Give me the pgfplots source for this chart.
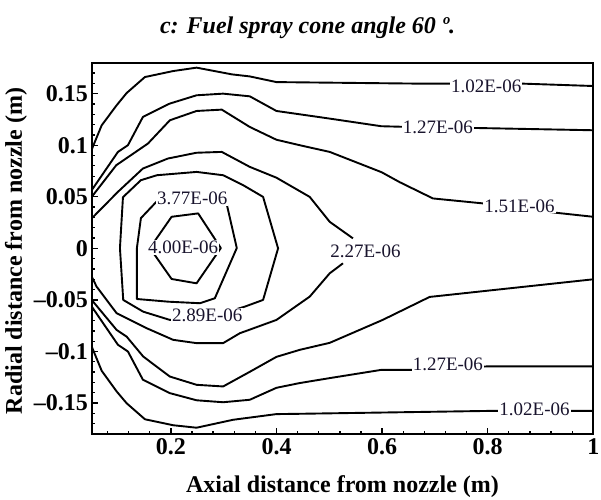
\documentclass[border=0pt]{standalone}
\usepackage{fontspec}
\setmainfont{Liberation Serif}
\usepackage{pgfplots}
\pgfplotsset{compat=1.18}

\definecolor{lbl}{RGB}{25,20,45}
\tikzset{
  cline/.style={black, line width=1.9pt, mark=none, line join=round},
  clab/.style={font=\fontsize{19}{22}\selectfont, text=lbl, fill=white, inner sep=1pt},
}

\begin{document}
\begin{tikzpicture}
\begin{axis}[
    at={(0,0)}, anchor=south west,
    width=501.6pt, height=371.3pt, scale only axis,
    xmin=0.05, xmax=1,
    ymin=-0.18, ymax=0.18,
    xtick={0.2,0.4,0.6,0.8,1},
    xticklabels={0.2,0.4,0.6,0.8,1},
    ytick={-0.15,-0.1,-0.05,0,0.05,0.1,0.15},
    yticklabels={--0.15,--0.1,--0.05,0,0.05,0.1,0.15},
    minor xtick={0.08,0.12,...,0.96},
    minor ytick={-0.17,-0.16,...,0.17},
    tick pos=left, tick align=inside,
    major tick length=6pt, minor tick length=3.5pt,
    every tick/.style={black, line width=1.3pt},
    axis line style={line width=2.3pt},
    ticklabel style={font=\bfseries\fontsize{24}{28}\selectfont},
    xticklabel style={inner sep=0pt, yshift=-4pt, anchor=north},
    yticklabel style={inner sep=0pt, xshift=-3.7pt, anchor=east},
]

% 1.02E-06
\addplot[cline] coordinates {
  (0.05,0.0958)(0.0689,0.1193)(0.0972,0.1387)(0.1162,0.1506)(0.1508,0.1661)
  (0.2043,0.1719)(0.2486,0.1752)(0.3154,0.1687)(0.3494,0.1667)(0.3999,0.1612)
  (0.6710,0.1597)(0.8664,0.1597)(1.0,0.1574)};
\addplot[cline] coordinates {
  (0.05,-0.0952)(0.0689,-0.1187)(0.0972,-0.1387)(0.1162,-0.1502)(0.1508,-0.1657)
  (0.2043,-0.1715)(0.2486,-0.1739)(0.3178,-0.1662)(0.3999,-0.1607)(0.4440,-0.1604)
  (0.8161,-0.1575)(1.0,-0.1575)};

% 1.27E-06
\addplot[cline] coordinates {
  (0.05,0.0564)(0.0997,0.0935)(0.1186,0.1000)(0.1470,0.1274)(0.1975,0.1403)
  (0.2486,0.1484)(0.2989,0.1500)(0.3494,0.1474)(0.3999,0.1332)(0.5008,0.1258)
  (0.5986,0.1184)(0.6364,0.1179)(0.7783,0.1167)(1.0,0.1145)};
\addplot[cline] coordinates {
  (0.05,-0.0564)(0.0997,-0.0935)(0.1186,-0.1000)(0.1470,-0.1274)(0.1975,-0.1403)
  (0.2486,-0.1473)(0.2989,-0.1492)(0.3494,-0.1468)(0.3999,-0.1352)(0.4440,-0.1306)
  (0.5008,-0.1258)(0.5986,-0.1178)(0.6553,-0.1178)(0.7972,-0.1145)(1.0,-0.1145)};

% 1.51E-06
\addplot[cline] coordinates {
  (0.05,0.0499)(0.0965,0.0806)(0.1565,0.1016)(0.1981,0.1242)(0.2486,0.1332)
  (0.2964,0.1345)(0.3494,0.1177)(0.3999,0.1053)(0.4440,0.1000)(0.5008,0.0935)
  (0.5991,0.0738)(0.6332,0.0642)(0.6962,0.0484)(0.7908,0.0436)(0.9296,0.0345)
  (1.0,0.0306)};
\addplot[cline] coordinates {
  (0.05,-0.0500)(0.0972,-0.0791)(0.1162,-0.0856)(0.1476,-0.1049)(0.1981,-0.1243)
  (0.2486,-0.1323)(0.2989,-0.1339)(0.3494,-0.1197)(0.3999,-0.1052)(0.4440,-0.0984)
  (0.5008,-0.0916)(0.6010,-0.0694)(0.6900,-0.0471)(1.0,-0.0300)};

% 2.27E-06
\addplot[cline] coordinates {
  (0.05,0.0290)(0.0997,0.0548)(0.1470,0.0774)(0.1943,0.0871)(0.2486,0.0927)
  (0.2964,0.0935)(0.3494,0.0790)(0.3999,0.0685)(0.4629,0.0499)(0.5008,0.0257)
  (0.5448,0.0097)};
\addplot[cline] coordinates {
  (0.5259,-0.0145)(0.5008,-0.0242)(0.4629,-0.0468)(0.3999,-0.0694)(0.3305,-0.0823)
  (0.2989,-0.0919)(0.2486,-0.0919)(0.2043,-0.0887)(0.1540,-0.0774)(0.0972,-0.0629)
  (0.0594,-0.0372)(0.05,-0.0275)};

% 2.89E-06
\addplot[cline] coordinates {
  (0.1035,0.0003)(0.1092,0.0496)(0.1432,0.0661)(0.1735,0.0709)(0.2486,0.0741)
  (0.2989,0.0709)(0.3367,0.0613)(0.3746,0.0499)(0.4030,0.0)(0.3746,-0.0500)
  (0.3400,-0.0565)(0.2681,-0.0675)(0.1981,-0.0694)(0.1476,-0.0614)(0.1097,-0.0500)
  (0.1035,0.0003)};

% 3.77E-06
\addplot[cline] coordinates {
  (0.1356,0.0003)(0.1432,0.0293)(0.1754,0.0467)(0.2397,0.0506)(0.3040,0.0467)
  (0.3248,0.0003)(0.2832,-0.0484)(0.2548,-0.0532)(0.1949,-0.0517)(0.1356,-0.0491)
  (0.1356,0.0003)};

% 4.00E-06
\addplot[cline] coordinates {
  (0.1602,0.0003)(0.2013,0.0306)(0.2516,0.0339)(0.2946,0.0003)(0.2486,-0.0339)
  (0.2013,-0.0297)(0.1602,0.0003)};

\node[clab] at (axis cs:0.7972,0.1571) {1.02E-06};
\node[clab] at (axis cs:0.7056,0.1177) {1.27E-06};
\node[clab] at (axis cs:0.8602,0.0411) {1.51E-06};
\node[clab] at (axis cs:0.5685,-0.0024) {2.27E-06};
\node[clab] at (axis cs:0.2690,-0.0653) {2.89E-06};
\node[clab] at (axis cs:0.2406,0.0484) {3.77E-06};
\node[clab] at (axis cs:0.2232,0.0008) {4.00E-06};
\node[clab] at (axis cs:0.7245,-0.1129) {1.27E-06};
\node[clab] at (axis cs:0.8886,-0.1565) {1.02E-06};
\end{axis}

\node[anchor=base, font=\bfseries\itshape\fontsize{24}{28}\selectfont] at (215.9pt,400.3pt) {c: Fuel spray cone angle 60 º.};
\node[anchor=base, font=\bfseries\fontsize{24}{28}\selectfont] at (250.8pt,-58pt) {Axial distance from nozzle (m)};
\node[anchor=base, rotate=90, font=\bfseries\fontsize{24}{28}\selectfont] at (-69.7pt,183pt) {Radial distance from nozzle (m)};

\pgfresetboundingbox
\useasboundingbox (-91.7pt,-65pt) rectangle (509.3pt,434pt);
\end{tikzpicture}
\end{document}
